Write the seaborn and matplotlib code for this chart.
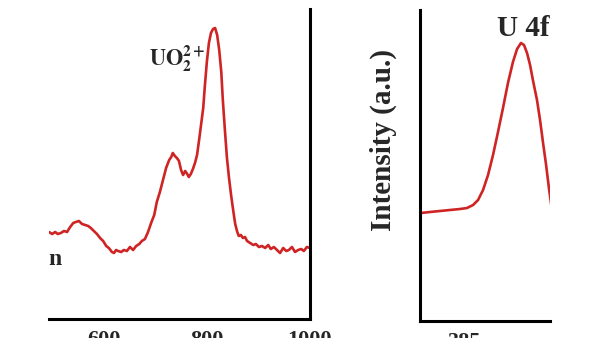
import numpy as np
import pandas as pd
import matplotlib
matplotlib.use("Agg")
import matplotlib.pyplot as plt
import seaborn as sns

# ---- Data ----
raman_shift = [494, 500, 506, 511, 517, 523, 529, 535, 541, 546,
               552, 558, 564, 570, 575, 581, 587, 593, 599, 605,
               610, 616, 620, 624, 628, 634, 639, 645, 651, 657,
               663, 669, 674, 680, 686, 692, 698, 703, 709, 715,
               721, 727, 731, 734, 738, 742, 746, 750, 754, 758,
               762, 765, 769, 773, 777, 781, 785, 789, 793, 796,
               800, 804, 808, 812, 816, 820, 824, 828, 831, 835,
               839, 843, 847, 851, 855, 859, 862, 866, 870, 874,
               878, 884, 890, 895, 901, 907, 913, 919, 924, 930,
               936, 942, 948, 954, 959, 965, 971, 977, 983, 988,
               994, 1000]
raman_intensity = [87, 85, 87, 85, 86, 88, 87, 92, 96, 97,
                   98, 95, 94, 93, 91, 88, 85, 81, 78, 73,
                   71, 67, 66, 69, 68, 67, 69, 68, 72, 69,
                   73, 75, 78, 80, 87, 96, 104, 117, 127, 139,
                   151, 159, 162, 166, 163, 161, 158, 149, 144, 148,
                   145, 142, 145, 150, 156, 164, 179, 195, 211, 232,
                   257, 276, 286, 290, 291, 284, 269, 247, 219, 189,
                   161, 141, 124, 109, 95, 87, 83, 84, 81, 82,
                   78, 76, 74, 75, 72, 73, 71, 74, 70, 72,
                   69, 66, 71, 68, 69, 72, 67, 69, 70, 68,
                   72, 71]
raman_ticks = [600, 800, 1000]

xps_energy = [386.95, 386.54, 386.08, 385.62, 385.15, 384.83, 384.55, 384.32,
              384.09, 383.86, 383.63, 383.40, 383.17, 382.94, 382.71, 382.52,
              382.34, 382.20, 382.06, 381.92, 381.79, 381.60, 381.46, 381.32,
              381.18, 381.05, 380.91]
xps_intensity = [108, 109, 110, 111, 112, 113, 116, 121, 131, 146, 166, 189,
                 213, 238, 259, 272, 278, 276, 268, 256, 241, 221, 201, 178,
                 156, 133, 111]
xps_ticks = [385, 380]

peak_label = r"$\mathbf{UO_2^{2+}}$"
panel_label = "U 4f"
side_label = "n"
ylabel_text = "Intensity (a.u.)"

# ---- Style ----
sns.set_style("white")
plt.rcParams["font.family"] = ["Liberation Serif", "DejaVu Serif"]
plt.rcParams["font.weight"] = "bold"
plt.rcParams["mathtext.fontset"] = "stix"

RED = "#cf2424"
W, H = 600, 338
fig = plt.figure(figsize=(6, 3.38), dpi=100)
fig.patch.set_facecolor("white")

def fx(px):
    return px / W

def fy(py):
    return 1 - py / H

# Left panel (Raman)
ax1 = fig.add_axes([fx(49), fy(319), (310 - 49) / W, (319 - 9) / H])
df1 = pd.DataFrame({"shift": raman_shift, "intensity": raman_intensity})
sns.lineplot(data=df1, x="shift", y="intensity", ax=ax1, color=RED, lw=1.9)
ax1.set_xticks(raman_ticks)
ax1.set_xticks([500, 700, 900], minor=True)
ax1.set_yticks([])
ax1.set_xlim(494, 1000)
ax1.set_ylim(0, 310)
ax1.set_xlabel("")
ax1.set_ylabel("")
for s in ["left", "top"]:
    ax1.spines[s].set_visible(False)
for s in ["right", "bottom"]:
    ax1.spines[s].set_linewidth(2.2)
    ax1.spines[s].set_color("black")
ax1.tick_params(axis="x", which="major", direction="in", length=5, width=2,
                pad=8, labelsize=16)
ax1.tick_params(axis="x", which="minor", direction="in", length=3, width=2)
ax1.text(798, 254, peak_label, ha="right", va="baseline", fontsize=16)
ax1.text(-0.003, 0.175, side_label, transform=ax1.transAxes, ha="left",
         va="baseline", fontsize=17, fontweight="bold", clip_on=True)

# Right panel (XPS)
ax2 = fig.add_axes([fx(420), fy(321), (550 - 420) / W, (321 - 10) / H])
df2 = pd.DataFrame({"energy": xps_energy, "intensity": xps_intensity})
sns.lineplot(data=df2, x="energy", y="intensity", ax=ax2, color=RED, lw=1.9)
ax2.set_xticks(xps_ticks)
ax2.set_xticks([382.5], minor=True)
ax2.set_yticks([])
ax2.set_xlim(387, 381)
ax2.set_ylim(0, 311)
ax2.set_xlabel("")
ax2.set_ylabel("")
for s in ["right", "top"]:
    ax2.spines[s].set_visible(False)
for s in ["left", "bottom"]:
    ax2.spines[s].set_linewidth(2.2)
    ax2.spines[s].set_color("black")
ax2.tick_params(axis="x", which="major", direction="in", length=5, width=2,
                pad=8, labelsize=16)
ax2.tick_params(axis="x", which="minor", direction="in", length=3, width=2)
ax2.text(0.59, 0.918, panel_label, transform=ax2.transAxes, ha="left",
         va="baseline", fontsize=21, fontweight="bold", clip_on=True)

fig.text(fx(383), fy(140), ylabel_text, rotation=90, ha="center",
         va="center", fontsize=21, fontweight="bold")

fig.savefig("out.png", dpi=100, facecolor="white")
